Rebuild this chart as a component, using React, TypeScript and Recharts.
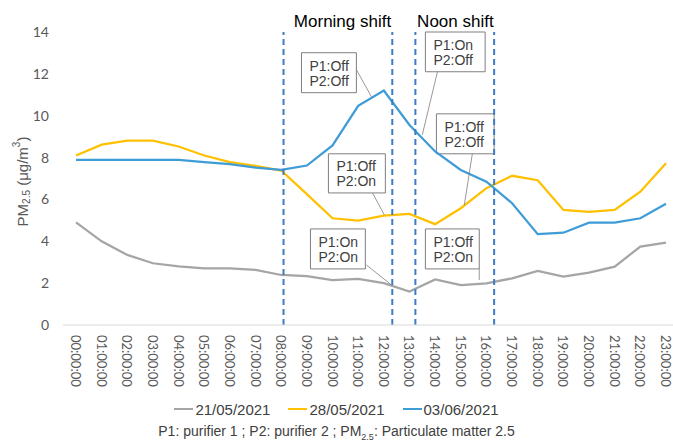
import { LineChart, Line, XAxis, YAxis, Legend, ReferenceLine, ReferenceArea, ReferenceDot } from 'recharts';

const hours = [
  '00:00:00', '01:00:00', '02:00:00', '03:00:00', '04:00:00', '05:00:00',
  '06:00:00', '07:00:00', '08:00:00', '09:00:00', '10:00:00', '11:00:00',
  '12:00:00', '13:00:00', '14:00:00', '15:00:00', '16:00:00', '17:00:00',
  '18:00:00', '19:00:00', '20:00:00', '21:00:00', '22:00:00', '23:00:00',
];

const seriesNames = ['21/05/2021', '28/05/2021', '03/06/2021'];
const may21 = [4.9, 4.0, 3.35, 2.95, 2.8, 2.7, 2.7, 2.63, 2.39, 2.34, 2.15, 2.2, 2.0, 1.6, 2.18, 1.91, 1.99, 2.23, 2.58, 2.31, 2.5, 2.79, 3.75, 3.94];
const may28 = [8.1, 8.62, 8.81, 8.81, 8.53, 8.1, 7.78, 7.6, 7.38, 6.25, 5.1, 4.99, 5.23, 5.31, 4.82, 5.58, 6.54, 7.13, 6.92, 5.5, 5.4, 5.5, 6.37, 7.73];
const jun03 = [7.89, 7.89, 7.89, 7.89, 7.89, 7.78, 7.69, 7.52, 7.41, 7.62, 8.58, 10.47, 11.2, 9.56, 8.29, 7.41, 6.85, 5.82, 4.34, 4.41, 4.89, 4.89, 5.1, 5.79];

const yTicks = [0, 2, 4, 6, 8, 10, 12, 14];

// shift boundaries (hour index) and titles
const shiftLines = [8.09, 12.33, 13.23, 16.3];
const shiftTitles = [
  { name: 'Morning shift', at: 10.39 },
  { name: 'Noon shift', at: 14.79 },
];

// callouts: box [x1, x2, y1, y2], leader [[x, y], [x, y]]
const notes = [
  { lines: ['P1:Off', 'P2:Off'], box: [8.79, 10.93, 11.1, 13.01], leader: [[10.93, 12.2], [11.52, 10.9]] },
  { lines: ['P1:On', 'P2:Off'], box: [13.62, 15.95, 12.1, 14.0], leader: [[14.09, 12.1], [13.5, 9.09]] },
  { lines: ['P1:Off', 'P2:Off'], box: [14.05, 16.3, 8.18, 10.09], leader: [[15.45, 8.18], [15.14, 5.74]] },
  { lines: ['P1:Off', 'P2:On'], box: [9.84, 12.06, 6.31, 8.18], leader: [[11.56, 6.31], [12.02, 5.26]] },
  { lines: ['P1:On', 'P2:On'], box: [9.14, 11.28, 2.68, 4.59], leader: [[11.32, 2.87], [12.3, 1.91]] },
  { lines: ['P1:Off', 'P2:On'], box: [13.62, 15.72, 2.68, 4.59], leader: [[15.72, 2.68], [15.72, 2.15]] },
];

const data = hours.map((h, i) => ({ x: i, time: h, a: may21[i], b: may28[i], c: jun03[i] }));

const TimeTick = (props: any) => {
  const { x, y, payload } = props;
  return (
    <text
      transform={`translate(${x},${y}) rotate(90)`}
      textAnchor="start"
      dominantBaseline="central"
      fill="#595959"
      fontSize={13}
      fontFamily="Lato"
    >
      {hours[payload.value]}
    </text>
  );
};

const YLabel = (props: any) => {
  const { viewBox } = props;
  const cy = viewBox.y + viewBox.height / 2 + 3;
  return (
    <text
      transform={`translate(22,${cy}) rotate(-90)`}
      textAnchor="middle"
      dominantBaseline="central"
      fill="#595959"
      fontSize={15}
      fontFamily="Liberation Sans"
    >
      PM
      <tspan fontSize={10} dy={4}>2.5</tspan>
      <tspan dy={-4}> (μg/m</tspan>
      <tspan fontSize={10} dy={-6}>3</tspan>
      <tspan dy={6}>)</tspan>
    </text>
  );
};

const BoxLabel = (props: any) => {
  const { viewBox, lines } = props;
  const cy = viewBox.y + viewBox.height / 2;
  return (
    <text fill="#404040" fontSize={14} fontFamily="Liberation Sans">
      <tspan x={viewBox.x + 8} y={cy - 2}>{lines[0]}</tspan>
      <tspan x={viewBox.x + 8} y={cy + 13}>{lines[1]}</tspan>
    </text>
  );
};

const LegendBox = (props: any) => {
  const items = [...(props.payload || [])].sort(
    (p: any, q: any) => seriesNames.indexOf(p.value) - seriesNames.indexOf(q.value)
  );
  return (
    <div style={{ height: 56, fontFamily: 'Liberation Sans', color: '#404040' }}>
      <div style={{ display: 'flex', justifyContent: 'center', alignItems: 'center', paddingTop: 15, height: 18 }}>
        {items.map((p: any) => (
          <div key={p.value} style={{ display: 'flex', alignItems: 'center', margin: '0 9px' }}>
            <span style={{ display: 'inline-block', width: 19, height: 2.5, background: p.color, marginRight: 2 }} />
            <span style={{ fontSize: 15 }}>{p.value}</span>
          </div>
        ))}
      </div>
      <div style={{ textAlign: 'center', fontSize: 14, marginTop: 5 }}>
        P1: purifier 1 ; P2: purifier 2 ; PM<sub style={{ fontSize: 9 }}>2.5</sub>: Particulate matter 2.5
      </div>
    </div>
  );
};

export default function App() {
  return (
    <div style={{ position: 'absolute', left: 0, top: 0, background: '#fff' }}>
      <LineChart width={673} height={441} data={data} margin={{ top: 32, right: 0, left: 0, bottom: 0 }}>
        <XAxis
          dataKey="x"
          type="number"
          domain={[0, 23]}
          ticks={hours.map((_, i) => i)}
          interval={0}
          padding={{ left: 13, right: 7 }}
          tick={<TimeTick />}
          tickLine={false}
          tickSize={0}
          tickMargin={10}
          axisLine={{ stroke: '#d9d9d9' }}
          height={60}
        />
        <YAxis
          domain={[0, 14]}
          ticks={yTicks}
          width={63}
          axisLine={false}
          tickLine={false}
          tickSize={0}
          tickMargin={14}
          tick={{ fill: '#595959', fontSize: 14, fontFamily: 'Lato' }}
          label={<YLabel />}
        />
        <Line type="linear" dataKey="a" name={seriesNames[0]} stroke="#a5a5a5" strokeWidth={2.25} dot={false} isAnimationActive={false} />
        <Line type="linear" dataKey="b" name={seriesNames[1]} stroke="#ffc000" strokeWidth={2.25} dot={false} isAnimationActive={false} />
        <Line type="linear" dataKey="c" name={seriesNames[2]} stroke="#3e9cd6" strokeWidth={2.25} dot={false} isAnimationActive={false} />
        {shiftLines.map((x) => (
          <ReferenceLine key={x} x={x} stroke="#3b7cc4" strokeWidth={2} strokeDasharray="6 4" />
        ))}
        {shiftTitles.map((s) => (
          <ReferenceDot
            key={s.name}
            x={s.at}
            y={14}
            r={0}
            stroke="none"
            fill="none"
            ifOverflow="visible"
            label={{ value: s.name, position: 'top', offset: 5, fill: '#000', fontSize: 17, fontFamily: 'Liberation Sans' }}
          />
        ))}
        {notes.map((n, i) => (
          <ReferenceLine
            key={'l' + i}
            segment={[{ x: n.leader[0][0], y: n.leader[0][1] }, { x: n.leader[1][0], y: n.leader[1][1] }]}
            stroke="#7f7f7f"
            strokeWidth={0.8}
            ifOverflow="visible"
          />
        ))}
        {notes.map((n, i) => (
          <ReferenceArea
            key={'b' + i}
            x1={n.box[0]}
            x2={n.box[1]}
            y1={n.box[2]}
            y2={n.box[3]}
            fill="#fff"
            fillOpacity={1}
            stroke="#7f7f7f"
            strokeWidth={1}
            ifOverflow="visible"
            label={<BoxLabel lines={n.lines} />}
          />
        ))}
        <Legend verticalAlign="bottom" align="center" content={<LegendBox />} />
      </LineChart>
    </div>
  );
}
